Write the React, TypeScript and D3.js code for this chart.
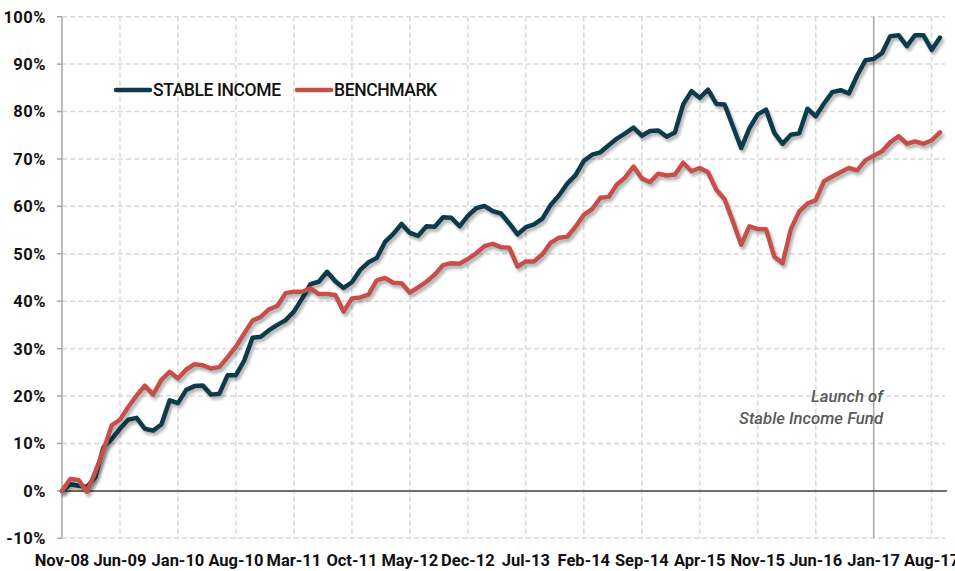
import React, { useRef, useEffect } from 'react';
import * as d3 from 'd3';

// monthly cumulative return, Nov-08 .. Sep-17 (%)
const stableIncome = [
  0, 1.4, 1.1, 0.8, 2.8, 9.2, 10.9, 13.1, 15, 15.4,
  13.1, 12.7, 14, 19.1, 18.5, 21.3, 22.1, 22.2, 20.3, 20.5,
  24.4, 24.4, 27.5, 32.3, 32.5, 33.9, 35, 36, 37.8, 40.6,
  43.6, 44.1, 46.2, 44.2, 42.8, 44, 46.6, 48.2, 49.1, 52.5,
  54.2, 56.3, 54.4, 53.8, 55.8, 55.7, 57.7, 57.6, 55.8, 58,
  59.6, 60.1, 59, 58.5, 56.4, 54.1, 55.6, 56.2, 57.4, 60.3,
  62.3, 64.8, 66.6, 69.6, 70.9, 71.4, 72.9, 74.3, 75.4, 76.6,
  74.9, 75.9, 76, 74.7, 75.6, 81.5, 84.3, 82.9, 84.6, 81.6,
  81.5, 76.9, 72.3, 76.5, 79.4, 80.4, 75.5, 73.2, 75.1, 75.4,
  80.6, 79, 81.7, 84.1, 84.5, 83.8, 87.6, 90.8, 91.1, 92.3,
  95.9, 96.1, 93.8, 96.1, 96.1, 93, 95.6,
];

const benchmark = [
  0, 2.5, 2.3, -0.2, 3.9, 8.5, 13.8, 15, 17.7, 20.1,
  22.2, 20.3, 23.4, 25.1, 23.7, 25.6, 26.7, 26.5, 25.8, 26.1,
  28.2, 30.4, 33.2, 35.9, 36.7, 38.3, 39, 41.7, 42, 42,
  42.7, 41.5, 41.5, 41.3, 37.8, 40.6, 40.8, 41.4, 44.4, 44.9,
  43.9, 43.8, 41.8, 42.9, 44.1, 45.6, 47.6, 48, 47.9, 48.9,
  50.1, 51.6, 52.1, 51.4, 51.3, 47.3, 48.4, 48.4, 49.9, 52.3,
  53.4, 53.6, 55.7, 58.2, 59.4, 61.8, 62, 64.6, 66.1, 68.4,
  65.9, 65.1, 66.9, 66.5, 66.7, 69.2, 67.4, 68.1, 67.2, 63.5,
  61.5, 56.8, 51.9, 55.8, 55.2, 55.2, 49.4, 48, 55.2, 58.9,
  60.6, 61.3, 65.3, 66.3, 67.2, 68.1, 67.6, 69.7, 70.7, 71.6,
  73.5, 74.8, 73.2, 73.7, 73.2, 73.9, 75.6,
];

const tickLabels = [
  'Nov-08', 'Jun-09', 'Jan-10', 'Aug-10', 'Mar-11', 'Oct-11', 'May-12', 'Dec-12',
  'Jul-13', 'Feb-14', 'Sep-14', 'Apr-15', 'Nov-15', 'Jun-16', 'Jan-17', 'Aug-17',
];
const tickStep = 7; // months between labels
const yTicks = [-10, 0, 10, 20, 30, 40, 50, 60, 70, 80, 90, 100];
const seriesNames = ['STABLE INCOME', 'BENCHMARK'];
const seriesColors = ['#0c3a4b', '#c4504c'];
const launchIndex = 98; // Jan-17
const annotationLines = ['Launch of', 'Stable Income Fund'];

export default function App() {
  const ref = useRef<SVGSVGElement>(null);

  useEffect(() => {
    if (!ref.current) return;
    const svg = d3.select(ref.current);
    svg.selectAll('*').remove();

    const left = 62, right = 947, top = 16.7, bottom = 538.3;
    const x = d3.scaleLinear().domain([0, 106.85]).range([left, right]);
    const y = d3.scaleLinear().domain([-10, 100]).range([bottom, top]);
    const font = 'Roboto, sans-serif';

    const defs = svg.append('defs');
    const f = defs.append('filter').attr('id', 'shadow')
      .attr('x', '-5%').attr('y', '-5%').attr('width', '110%').attr('height', '110%');
    f.append('feDropShadow')
      .attr('dx', 2).attr('dy', 3).attr('stdDeviation', 1.6)
      .attr('flood-color', '#000').attr('flood-opacity', 0.3);

    // grid
    const grid = svg.append('g');
    yTicks.filter(t => t !== 0).forEach(t => {
      grid.append('line')
        .attr('x1', left).attr('x2', right - 2)
        .attr('y1', y(t)).attr('y2', y(t))
        .attr('stroke', '#d9d9d9').attr('stroke-width', 1.5)
        .attr('stroke-dasharray', '5 3');
    });
    tickLabels.forEach((_, i) => {
      if (i === 0) return;
      const idx = i * tickStep;
      grid.append('line')
        .attr('x1', x(idx)).attr('x2', x(idx))
        .attr('y1', top).attr('y2', bottom)
        .attr('stroke', idx === launchIndex ? '#a6a6a6' : '#d9d9d9')
        .attr('stroke-width', 1.5)
        .attr('stroke-dasharray', idx === launchIndex ? null : '5 3');
    });

    // y axis
    svg.append('line')
      .attr('x1', left).attr('x2', left).attr('y1', top).attr('y2', bottom)
      .attr('stroke', '#a6a6a6').attr('stroke-width', 1.5);
    yTicks.forEach(t => {
      svg.append('line')
        .attr('x1', left - 5).attr('x2', left).attr('y1', y(t)).attr('y2', y(t))
        .attr('stroke', '#a6a6a6').attr('stroke-width', 1.5);
      svg.append('text')
        .attr('x', 46).attr('y', y(t)).attr('dy', '0.36em')
        .attr('text-anchor', 'end')
        .attr('font-family', font).attr('font-weight', 700).attr('font-size', 16.5)
        .attr('letter-spacing', '0.5px')
        .attr('fill', '#111')
        .text(`${t}%`);
    });

    // zero line
    svg.append('line')
      .attr('x1', left).attr('x2', right).attr('y1', y(0)).attr('y2', y(0))
      .attr('stroke', '#404040').attr('stroke-width', 1.5);

    // x labels
    tickLabels.forEach((lab, i) => {
      svg.append('text')
        .attr('x', x(i * tickStep)).attr('y', 566)
        .attr('text-anchor', 'middle')
        .attr('font-family', font).attr('font-weight', 700).attr('font-size', 16.5)
        .attr('fill', '#111')
        .text(lab);
    });

    // annotation
    annotationLines.forEach((t, i) => {
      svg.append('text')
        .attr('x', 883).attr('y', 402 + i * 22)
        .attr('text-anchor', 'end')
        .attr('font-family', font).attr('font-style', 'italic').attr('font-weight', 500)
        .attr('font-size', 16.7)
        .attr('fill', '#595959')
        .text(t);
    });

    // series
    const line = d3.line<number>()
      .x((_, i) => x(i))
      .y(d => y(d));
    [stableIncome, benchmark].forEach((s, k) => {
      svg.append('path')
        .datum(s)
        .attr('d', line)
        .attr('fill', 'none')
        .attr('stroke', seriesColors[k])
        .attr('stroke-width', 4.5)
        .attr('stroke-linejoin', 'round')
        .attr('stroke-linecap', 'round')
        .attr('filter', 'url(#shadow)');
    });

    // legend
    const legendX = [116, 297];
    seriesNames.forEach((name, k) => {
      const g = svg.append('g').attr('transform', `translate(${legendX[k]}, 90)`);
      g.append('line')
        .attr('x1', 0).attr('x2', 34).attr('y1', 0).attr('y2', 0)
        .attr('stroke', seriesColors[k]).attr('stroke-width', 4.5)
        .attr('stroke-linecap', 'round');
      g.append('text')
        .attr('x', 37).attr('y', 0).attr('dy', '0.36em')
        .attr('font-family', font).attr('font-weight', 500).attr('font-size', 17.5)
        .attr('letter-spacing', '-0.4px')
        .attr('fill', '#111')
        .text(name);
    });
  }, []);

  return (
    <svg
      ref={ref}
      width={955}
      height={571}
      style={{ position: 'absolute', left: 0, top: 0, background: '#fff' }}
    />
  );
}
